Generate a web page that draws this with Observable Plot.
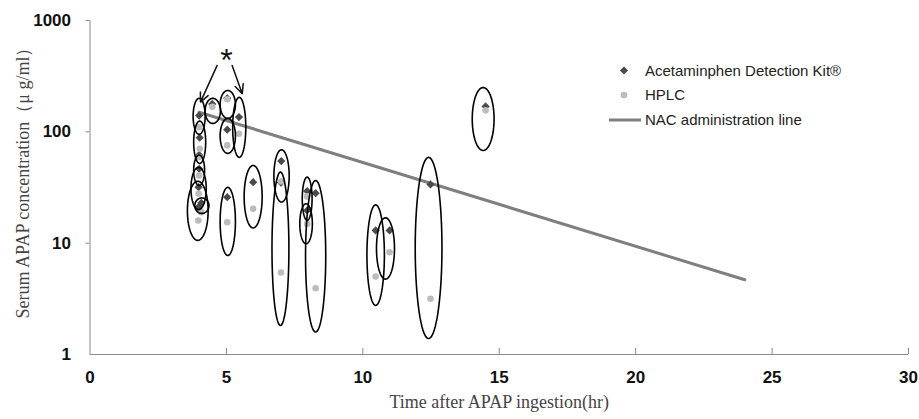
<!DOCTYPE html>
<html>
<head>
<meta charset="utf-8">
<script src="https://cdn.jsdelivr.net/npm/d3@7"></script>
<script src="https://cdn.jsdelivr.net/npm/@observablehq/plot@0.6"></script>
<style>
  html, body { margin: 0; padding: 0; background: #fff; }
  #chart { position: relative; width: 919px; height: 419px; }
</style>
</head>
<body>
<div id="chart"></div>
<script>
// ---- data ----
// paired measurements: time (hr), kit value, HPLC value (µg/ml)
const pairTime  = [4.00, 4.02, 4.00, 4.00, 3.98, 4.08, 3.97, 4.48, 5.03, 5.03, 5.46, 5.03, 5.98, 7.01, 7.00, 7.96, 7.96, 8.27, 10.47, 10.98, 12.48, 14.50];
const kitValue  = [140, 88.5, 62, 46.6, 31.8, 23, 21, 178, 200, 104.5, 135.6, 25.9, 35.3, 54.6, 35, 29.3, 19.7, 28.1, 13.0, 13.0, 33.7, 169];
const hplcValue = [110, 70.5, 59.3, 40.6, 27.8, 19, 16, 168, 196, 75.5, 96.2, 15.4, 20.4, 35.8, 5.45, 26.3, 14.9, 3.94, 5.02, 8.3, 3.17, 156];

// hand-drawn ellipses grouping each pair: centre time, low / high value, half-width (hr)
const ellipseTime      = [4.00, 4.02, 4.00, 3.98, 4.10, 3.95, 4.50, 5.05, 5.05, 5.47, 5.05, 5.98, 7.02, 6.98, 7.96, 7.92, 8.27, 10.47, 10.83, 12.41, 14.41];
const ellipseLow       = [95, 52, 33, 20, 18.5, 10.6, 119, 132, 64, 59, 7.75, 13.7, 23.4, 1.82, 16, 9.88, 1.59, 2.76, 4.75, 1.39, 68];
const ellipseHigh      = [200, 125, 62, 48, 25.5, 36, 200, 235, 132, 204, 31.7, 49.9, 69, 43.5, 39.2, 22.6, 36.6, 22.1, 16.9, 59, 250];
const ellipseHalfWidth = [0.22, 0.22, 0.20, 0.28, 0.26, 0.38, 0.28, 0.28, 0.28, 0.24, 0.28, 0.33, 0.28, 0.31, 0.18, 0.23, 0.37, 0.32, 0.33, 0.49, 0.40];

// NAC administration line
const nacTime  = [4, 24];
const nacValue = [150, 4.69];

// asterisk annotation and its arrows
const starTime = 5.0, starValue = 486;
const arrowFromTime  = [4.66, 5.21];
const arrowFromValue = [395, 395];
const arrowToTime    = [4.05, 5.58];
const arrowToValue   = [185, 220];

const xTicks = [0, 5, 10, 15, 20, 25, 30];
const yTicks = [1, 10, 100, 1000];
const legendLabels = ["Acetaminphen Detection Kit®", "HPLC", "NAC administration line"];
const xLabel = "Time after APAP ingestion(hr)";
const yLabel = "Serum APAP concentration（μ g/ml）";

// ---- build tables ----
const pairs = pairTime.map((t, i) => ({t, kit: kitValue[i], hplc: hplcValue[i]}));
const nac = nacTime.map((t, i) => ({t, v: nacValue[i]}));
const arrows = arrowFromTime.map((t, i) => ({x1: t, y1: arrowFromValue[i], x2: arrowToTime[i], y2: arrowToValue[i]}));
const ellipsePts = [];
ellipseTime.forEach((cx, i) => {
  const lo = Math.log10(ellipseLow[i]), hi = Math.log10(ellipseHigh[i]);
  const mid = (lo + hi) / 2, half = (hi - lo) / 2;
  for (let k = 0; k < 72; k++) {
    const a = 2 * Math.PI * k / 72;
    ellipsePts.push({id: i, t: cx + ellipseHalfWidth[i] * Math.cos(a), v: Math.pow(10, mid + half * Math.sin(a))});
  }
});

const axisGray = "#8a8a8a";
const serif = "'Liberation Serif', 'Times New Roman', serif";
const plot = Plot.plot({
  width: 919,
  height: 419,
  marginLeft: 89.5,
  marginRight: 11,
  marginTop: 20,
  marginBottom: 65,
  style: {background: "#fff", fontFamily: "'Liberation Sans', Arial, sans-serif", overflow: "visible"},
  x: {domain: [0, 30], axis: null},
  y: {type: "log", domain: [1, 1000], axis: null},
  marks: [
    // axes
    Plot.ruleX([0], {y1: 1, y2: 1000, stroke: axisGray, strokeWidth: 1}),
    Plot.ruleY([1], {x1: 0, x2: 30, stroke: axisGray, strokeWidth: 1}),
    Plot.ruleX(xTicks.filter(d => d > 0), {x: d => d, y1: 1, y2: 1, insetTop: -6, stroke: axisGray}),
    Plot.ruleY(yTicks.filter(d => d > 1), {y: d => d, x1: 0, x2: 0, insetLeft: -4, stroke: axisGray}),
    Plot.text(xTicks, {x: d => d, frameAnchor: "bottom", dy: 28, text: d => String(d), fontSize: 17, fontWeight: "bold", fill: "#111"}),
    Plot.text(yTicks, {y: d => d, frameAnchor: "left", dx: -19, textAnchor: "end", text: d => String(d), fontSize: 17, fontWeight: "bold", fill: "#111"}),
    Plot.text([xLabel], {frameAnchor: "bottom", dy: 53, text: d => d, textAnchor: "middle", fontSize: 18, fontFamily: serif, fill: "#444"}),
    Plot.text([yLabel], {frameAnchor: "left", dx: -67, dy: -9, rotate: -90, textAnchor: "middle", text: d => d, fontSize: 18, fontFamily: serif, fill: "#444"}),
    // NAC line
    Plot.line(nac, {x: "t", y: "v", stroke: "#7f7f7f", strokeWidth: 3}),
    // data
    Plot.dot(pairs, {x: "t", y: "kit", symbol: "diamond2", r: 3.7, fill: "#4a4a4a", stroke: "none"}),
    Plot.dot(pairs, {x: "t", y: "hplc", symbol: "circle", r: 3.3, fill: "#bcbcbc", stroke: "none"}),
    // ellipses
    Plot.line(ellipsePts, {x: "t", y: "v", z: "id", curve: "linear-closed", stroke: "#000", strokeWidth: 1.6, fill: "none"}),
    // asterisk + arrows
    Plot.arrow(arrows, {x1: "x1", y1: "y1", x2: "x2", y2: "y2", stroke: "#111", strokeWidth: 1.5, headLength: 10, headAngle: 50}),
    Plot.text([starValue], {x: () => starTime, y: d => d, text: () => "*", fontSize: 32, dy: 5, fill: "#111"})
  ]
});

// legend inside the plot area (top right)
const svg = d3.select(plot);
const lg = svg.append("g").attr("font-family", "'Liberation Sans', Arial, sans-serif").attr("font-size", 15).attr("fill", "#222").attr("text-anchor", "start");
const rows = [70.5, 95, 120];
lg.append("path").attr("transform", `translate(624,${rows[0]})`).attr("d", d3.symbol(d3.symbolDiamond2, 43)()).attr("fill", "#4a4a4a");
lg.append("circle").attr("cx", 624).attr("cy", rows[1]).attr("r", 3.3).attr("fill", "#bcbcbc");
lg.append("line").attr("x1", 609).attr("x2", 641).attr("y1", rows[2]).attr("y2", rows[2]).attr("stroke", "#7f7f7f").attr("stroke-width", 3);
legendLabels.forEach((s, i) => {
  lg.append("text").attr("x", 645).attr("y", rows[i]).attr("dy", "0.35em").attr("text-anchor", "start").text(s);
});

document.getElementById("chart").appendChild(plot);
</script>
</body>
</html>
